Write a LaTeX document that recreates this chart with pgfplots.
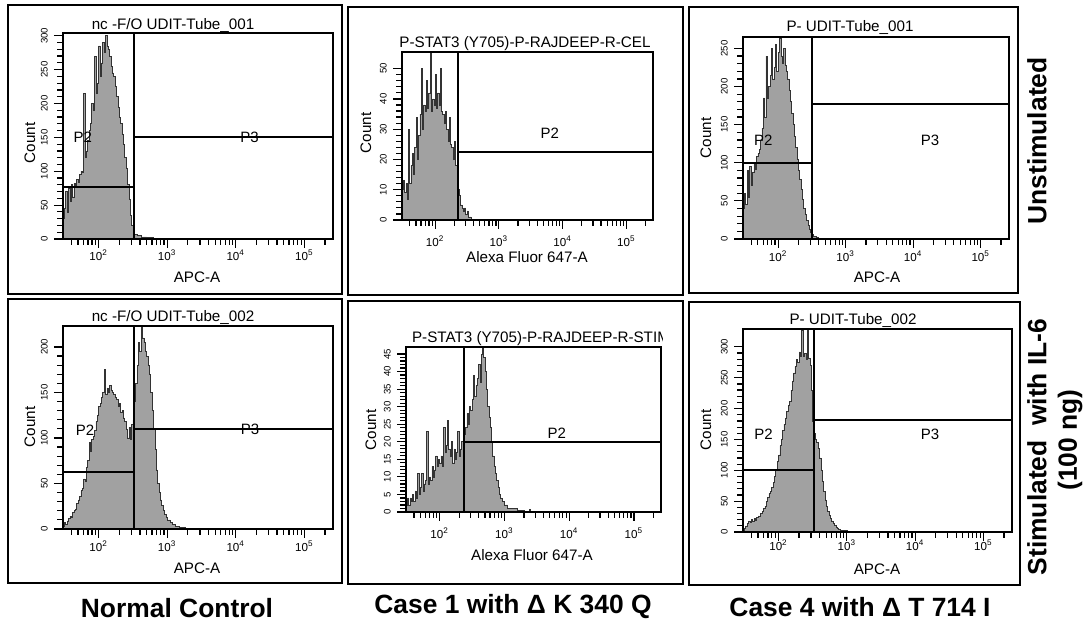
\documentclass[border=0pt]{standalone}
\usepackage{fontspec}
\setmainfont{Liberation Sans}
\usepackage{pgfplots}
\pgfplotsset{compat=1.18}

% x axis in log10 units (FACS display, ~30 .. 262144)
\pgfplotsset{
  facs/.style={
    scale only axis, anchor=south west,
    xmin=1.48, xmax=5.4185, ymin=0,
    axis on top, clip=true,
    axis line style={line width=0.9pt},
    tick align=outside, xtick pos=bottom, ytick pos=left,
    xtick={2,3,4,5},
    xticklabels={10\textsuperscript{2},10\textsuperscript{3},10\textsuperscript{4},10\textsuperscript{5}},
    minor xtick={1.602,1.699,1.778,1.845,1.903,1.954,2.301,2.477,2.602,2.699,2.778,2.845,2.903,2.954,3.301,3.477,3.602,3.699,3.778,3.845,3.903,3.954,4.301,4.477,4.602,4.699,4.778,4.845,4.903,4.954,5.301},
    minor y tick num=4,
    major tick length=4.5pt, minor tick length=2.8pt,
    every tick/.style={black, line width=0.6pt},
    /pgf/number format/assume math mode=true,
    xticklabel style={font=\fontsize{5.8}{6}\selectfont},
    yticklabel={\rotatebox{90}{\pgfmathprintnumber{\tick}}},
    yticklabel style={font=\fontsize{4.8}{5}\selectfont, inner sep=0.5pt, xshift=-2.5pt},
  },
  hist/.style={const plot, fill=black!37, draw=black!80, line width=0.3pt},
  gate/.style={black, line width=0.9pt, no marks},
}
\tikzset{plab/.style={font=\fontsize{7.5}{8}\selectfont},
         ttl/.style={font=\fontsize{7.6}{8}\selectfont, anchor=base},
         lab/.style={font=\fontsize{7.6}{8}\selectfont},
         big/.style={font=\bfseries\fontsize{13.2}{14}\selectfont}}

\begin{document}
\begin{tikzpicture}[x=0.5pt,y=-0.5pt]

% ---- row 1: unstimulated ----
\begin{axis}[facs, at={(31.5pt,-119.5pt)}, width=135pt, height=103pt,
  ymax=304, ytick={0,50,...,300}, xticklabel style={yshift=2.5pt}]
\addplot[hist] coordinates {(1.48,30)(1.50,45)(1.52,70)(1.54,40)(1.56,75)(1.58,55)(1.60,80)(1.62,62)(1.64,82)(1.66,78)(1.68,88)(1.70,84)(1.72,95)(1.74,100)(1.76,98)(1.78,215)(1.80,120)(1.82,130)(1.84,145)(1.86,160)(1.88,170)(1.90,200)(1.92,190)(1.94,270)(1.96,215)(1.98,230)(2.00,285)(2.02,240)(2.04,260)(2.06,290)(2.08,275)(2.10,300)(2.12,285)(2.14,280)(2.16,270)(2.18,255)(2.20,245)(2.22,240)(2.24,225)(2.26,210)(2.28,195)(2.30,180)(2.32,170)(2.34,155)(2.36,140)(2.38,120)(2.40,105)(2.42,80)(2.44,58)(2.46,35)(2.48,20)(2.50,11)(2.52,7)(2.56,5)(2.62,3)(2.70,2)(2.80,0)} \closedcycle;
\addplot[gate] coordinates {(2.51,0) (2.51,304)};
\addplot[gate] coordinates {(1.48,77) (2.51,77)};
\addplot[gate] coordinates {(2.51,150) (5.4185,150)};
\node[plab] at (axis cs:1.77,150) {P2};
\node[plab] at (axis cs:4.2,150) {P3};
\end{axis}

\begin{axis}[facs, at={(201pt,-110pt)}, width=125.5pt, height=84pt,
  ymax=55.5, ytick={0,10,...,50}]
\addplot[hist] coordinates {(1.48,10)(1.50,13)(1.52,9)(1.54,12)(1.56,7)(1.58,30)(1.60,12)(1.62,18)(1.64,22)(1.66,15)(1.68,24)(1.70,34)(1.72,20)(1.74,28)(1.76,35)(1.78,50)(1.80,30)(1.82,38)(1.84,36)(1.86,46)(1.88,37)(1.90,42)(1.92,55)(1.94,36)(1.96,40)(1.98,38)(2.00,48)(2.02,37)(2.04,42)(2.06,38)(2.08,50)(2.10,36)(2.12,35)(2.14,32)(2.16,36)(2.18,30)(2.20,26)(2.22,34)(2.24,25)(2.26,24)(2.28,20)(2.30,26)(2.32,18)(2.34,14)(2.36,10)(2.38,8)(2.40,5)(2.42,4)(2.44,3)(2.46,4)(2.48,2)(2.50,3)(2.52,1)(2.54,1)(2.56,0)} \closedcycle;
\addplot[gate] coordinates {(2.36,0) (2.36,55.5)};
\addplot[gate] coordinates {(2.36,22.5) (5.4185,22.5)};
\node[plab] at (axis cs:3.8,28.6) {P2};
\end{axis}

\begin{axis}[facs, at={(371.5pt,-119.5pt)}, width=133pt, height=101pt,
  ymax=265, ytick={0,50,...,250}, xticklabel style={yshift=2pt}]
\addplot[hist] coordinates {(1.48,40)(1.50,60)(1.52,45)(1.54,90)(1.56,55)(1.58,95)(1.60,70)(1.62,88)(1.64,100)(1.66,92)(1.68,108)(1.70,112)(1.72,118)(1.74,130)(1.76,145)(1.78,185)(1.80,160)(1.82,240)(1.84,185)(1.86,200)(1.88,215)(1.90,250)(1.92,210)(1.94,225)(1.96,255)(1.98,220)(2.00,245)(2.02,263)(2.04,240)(2.06,230)(2.08,250)(2.10,228)(2.12,220)(2.14,210)(2.16,195)(2.18,180)(2.20,165)(2.22,150)(2.24,135)(2.26,120)(2.28,105)(2.30,90)(2.32,78)(2.34,65)(2.36,52)(2.38,40)(2.40,32)(2.42,24)(2.44,18)(2.46,13)(2.48,9)(2.50,6)(2.52,4)(2.54,3)(2.56,2)(2.60,1)(2.64,0)} \closedcycle;
\addplot[gate] coordinates {(2.50,0) (2.50,265)};
\addplot[gate] coordinates {(1.48,100) (2.50,100)};
\addplot[gate] coordinates {(2.50,177) (5.4185,177)};
\node[plab] at (axis cs:1.78,130) {P2};
\node[plab] at (axis cs:4.25,130) {P3};
\end{axis}

% ---- row 2: stimulated with IL-6 ----
\begin{axis}[facs, at={(31.5pt,-264.5pt)}, width=135pt, height=101.5pt,
  ymax=223, ytick={0,50,...,200}, xticklabel style={yshift=2pt}]
\addplot[hist] coordinates {(1.48,3)(1.50,7)(1.52,5)(1.54,9)(1.56,12)(1.58,14)(1.60,13)(1.62,18)(1.64,20)(1.66,22)(1.68,28)(1.70,32)(1.72,36)(1.74,42)(1.76,45)(1.78,55)(1.80,52)(1.82,68)(1.84,75)(1.86,95)(1.88,85)(1.90,98)(1.92,102)(1.94,108)(1.96,118)(1.98,125)(2.00,135)(2.02,138)(2.04,145)(2.06,150)(2.08,175)(2.10,148)(2.12,155)(2.14,150)(2.16,158)(2.18,152)(2.20,150)(2.22,148)(2.24,145)(2.26,142)(2.28,135)(2.30,138)(2.32,128)(2.34,130)(2.36,122)(2.38,118)(2.40,110)(2.42,100)(2.44,112)(2.46,98)(2.48,115)(2.50,120)(2.52,140)(2.54,160)(2.56,180)(2.58,205)(2.60,195)(2.62,222)(2.64,210)(2.66,205)(2.68,195)(2.70,190)(2.72,180)(2.74,170)(2.76,150)(2.78,130)(2.80,110)(2.82,88)(2.84,65)(2.86,50)(2.88,40)(2.90,32)(2.92,26)(2.94,20)(2.96,16)(2.98,13)(3.00,10)(3.04,7)(3.08,5)(3.12,3)(3.18,2)(3.26,1)(3.30,0)} \closedcycle;
\addplot[gate] coordinates {(2.51,0) (2.51,223)};
\addplot[gate] coordinates {(1.48,62.5) (2.51,62.5)};
\addplot[gate] coordinates {(2.51,110) (5.4185,110)};
\node[plab] at (axis cs:1.80,109) {P2};
\node[plab] at (axis cs:4.21,110) {P3};
\end{axis}

\begin{axis}[facs, at={(203pt,-256pt)}, width=127.5pt, height=82.5pt,
  ymax=47, ytick={0,5,...,45}]
\addplot[hist] coordinates {(1.48,2)(1.50,4)(1.52,2)(1.54,4)(1.56,3)(1.58,5)(1.60,3)(1.62,6)(1.64,4)(1.66,11)(1.68,5)(1.70,7)(1.72,11)(1.74,6)(1.76,8)(1.78,9)(1.80,23)(1.82,8)(1.84,10)(1.86,9)(1.88,13)(1.90,10)(1.92,12)(1.94,16)(1.96,13)(1.98,15)(2.00,14)(2.02,16)(2.04,13)(2.06,24)(2.08,17)(2.10,19)(2.12,26)(2.14,18)(2.16,16)(2.18,20)(2.20,14)(2.22,18)(2.24,15)(2.26,17)(2.28,23)(2.30,16)(2.32,18)(2.34,20)(2.36,19)(2.38,22)(2.40,24)(2.42,28)(2.44,25)(2.46,30)(2.48,29)(2.50,32)(2.52,39)(2.54,33)(2.56,36)(2.58,38)(2.60,42)(2.62,37)(2.64,45)(2.66,47)(2.68,44)(2.70,40)(2.72,35)(2.74,30)(2.76,27)(2.78,24)(2.80,20)(2.82,16)(2.84,13)(2.86,11)(2.88,9)(2.90,7)(2.92,5)(2.94,4)(2.96,3)(3.00,2)(3.05,1)(3.12,1)(3.20,0.5)(3.30,0)(3.38,0.8)(3.40,0)} \closedcycle;
\addplot[gate] coordinates {(2.38,0) (2.38,47)};
\addplot[gate] coordinates {(2.38,20) (5.4185,20)};
\node[plab] at (axis cs:3.81,22.4) {P2};
\end{axis}

\begin{axis}[facs, at={(371.5pt,-266pt)}, width=134.5pt, height=101.5pt,
  ymax=329, ytick={0,50,...,300}, xticklabel style={yshift=4pt}]
\addplot[hist] coordinates {(1.48,3)(1.50,6)(1.52,10)(1.54,14)(1.56,18)(1.58,16)(1.60,20)(1.62,18)(1.64,22)(1.66,19)(1.68,24)(1.70,26)(1.72,25)(1.74,30)(1.76,34)(1.78,38)(1.80,42)(1.82,50)(1.84,56)(1.86,62)(1.88,66)(1.90,72)(1.92,80)(1.94,90)(1.96,100)(1.98,115)(2.00,125)(2.02,140)(2.04,150)(2.06,165)(2.08,175)(2.10,185)(2.12,195)(2.14,205)(2.16,212)(2.18,230)(2.20,245)(2.22,258)(2.24,268)(2.26,280)(2.28,275)(2.30,292)(2.32,285)(2.34,327)(2.36,285)(2.38,290)(2.40,280)(2.42,327)(2.44,282)(2.46,270)(2.48,230)(2.50,180)(2.52,160)(2.54,150)(2.56,145)(2.58,135)(2.60,120)(2.62,100)(2.64,82)(2.66,66)(2.68,52)(2.70,42)(2.72,34)(2.74,27)(2.76,22)(2.78,18)(2.80,14)(2.82,11)(2.84,8)(2.86,6)(2.88,4)(2.90,3)(2.94,2)(3.00,0)} \closedcycle;
\addplot[gate] coordinates {(2.52,0) (2.52,329)};
\addplot[gate] coordinates {(1.48,100) (2.52,100)};
\addplot[gate] coordinates {(2.52,181) (5.4185,181)};
\node[plab] at (axis cs:1.78,159) {P2};
\node[plab] at (axis cs:4.22,159) {P3};
\end{axis}

% panel frames
\draw[line width=0.9pt] (8,5) rectangle (342,294);
\draw[line width=0.9pt] (348,7) rectangle (683,295);
\draw[line width=0.9pt] (689,7) rectangle (1018,293);
\draw[line width=0.9pt] (8,299) rectangle (342,583);
\draw[line width=0.9pt] (348,301) rectangle (683,584);
\draw[line width=0.9pt] (689,302) rectangle (1020,585);

% titles
\node[ttl] at (173,30) {nc -F/O UDIT-Tube\_001};
\node[ttl] at (525,48) {P-STAT3 (Y705)-P-RAJDEEP-R-CEL};
\node[ttl] at (850,32) {P- UDIT-Tube\_001};
\node[ttl] at (173,322) {nc -F/O UDIT-Tube\_002};
\begin{scope}
\clip (380,320) rectangle (662,350);
\node[ttl, anchor=base west] at (405,343) {P-STAT3 (Y705)-P-RAJDEEP-R-STIM};
\end{scope}
\node[ttl] at (853,325) {P- UDIT-Tube\_002};

% axis labels
\node[lab, rotate=90] at (30,143) {Count};
\node[lab, rotate=90] at (366,133) {Count};
\node[lab, rotate=90] at (706,138) {Count};
\node[lab, rotate=90] at (30,427) {Count};
\node[lab, rotate=90] at (371,430) {Count};
\node[lab, rotate=90] at (706,430) {Count};
\node[lab] at (197,277) {APC-A};
\node[lab] at (527,257) {Alexa Fluor 647-A};
\node[lab] at (877,277) {APC-A};
\node[lab] at (197,568) {APC-A};
\node[lab] at (532,555) {Alexa Fluor 647-A};
\node[lab] at (877,569) {APC-A};

% row and column headings
\node[big, rotate=90] at (1037,141) {Unstimulated};
\node[big, rotate=90] at (1037,447) {Stimulated\ \ with IL-6};
\node[big, rotate=90] at (1070,440) {(100 ng)};
\node[big] at (177,608) {Normal Control};
\node[big] at (513,607) {Case 1 with Δ K 340 Q};
\node[big] at (860,607) {Case 4 with Δ T 714 I};

\pgfresetboundingbox
\useasboundingbox (0,0) rectangle (1084,620);
\end{tikzpicture}
\end{document}
